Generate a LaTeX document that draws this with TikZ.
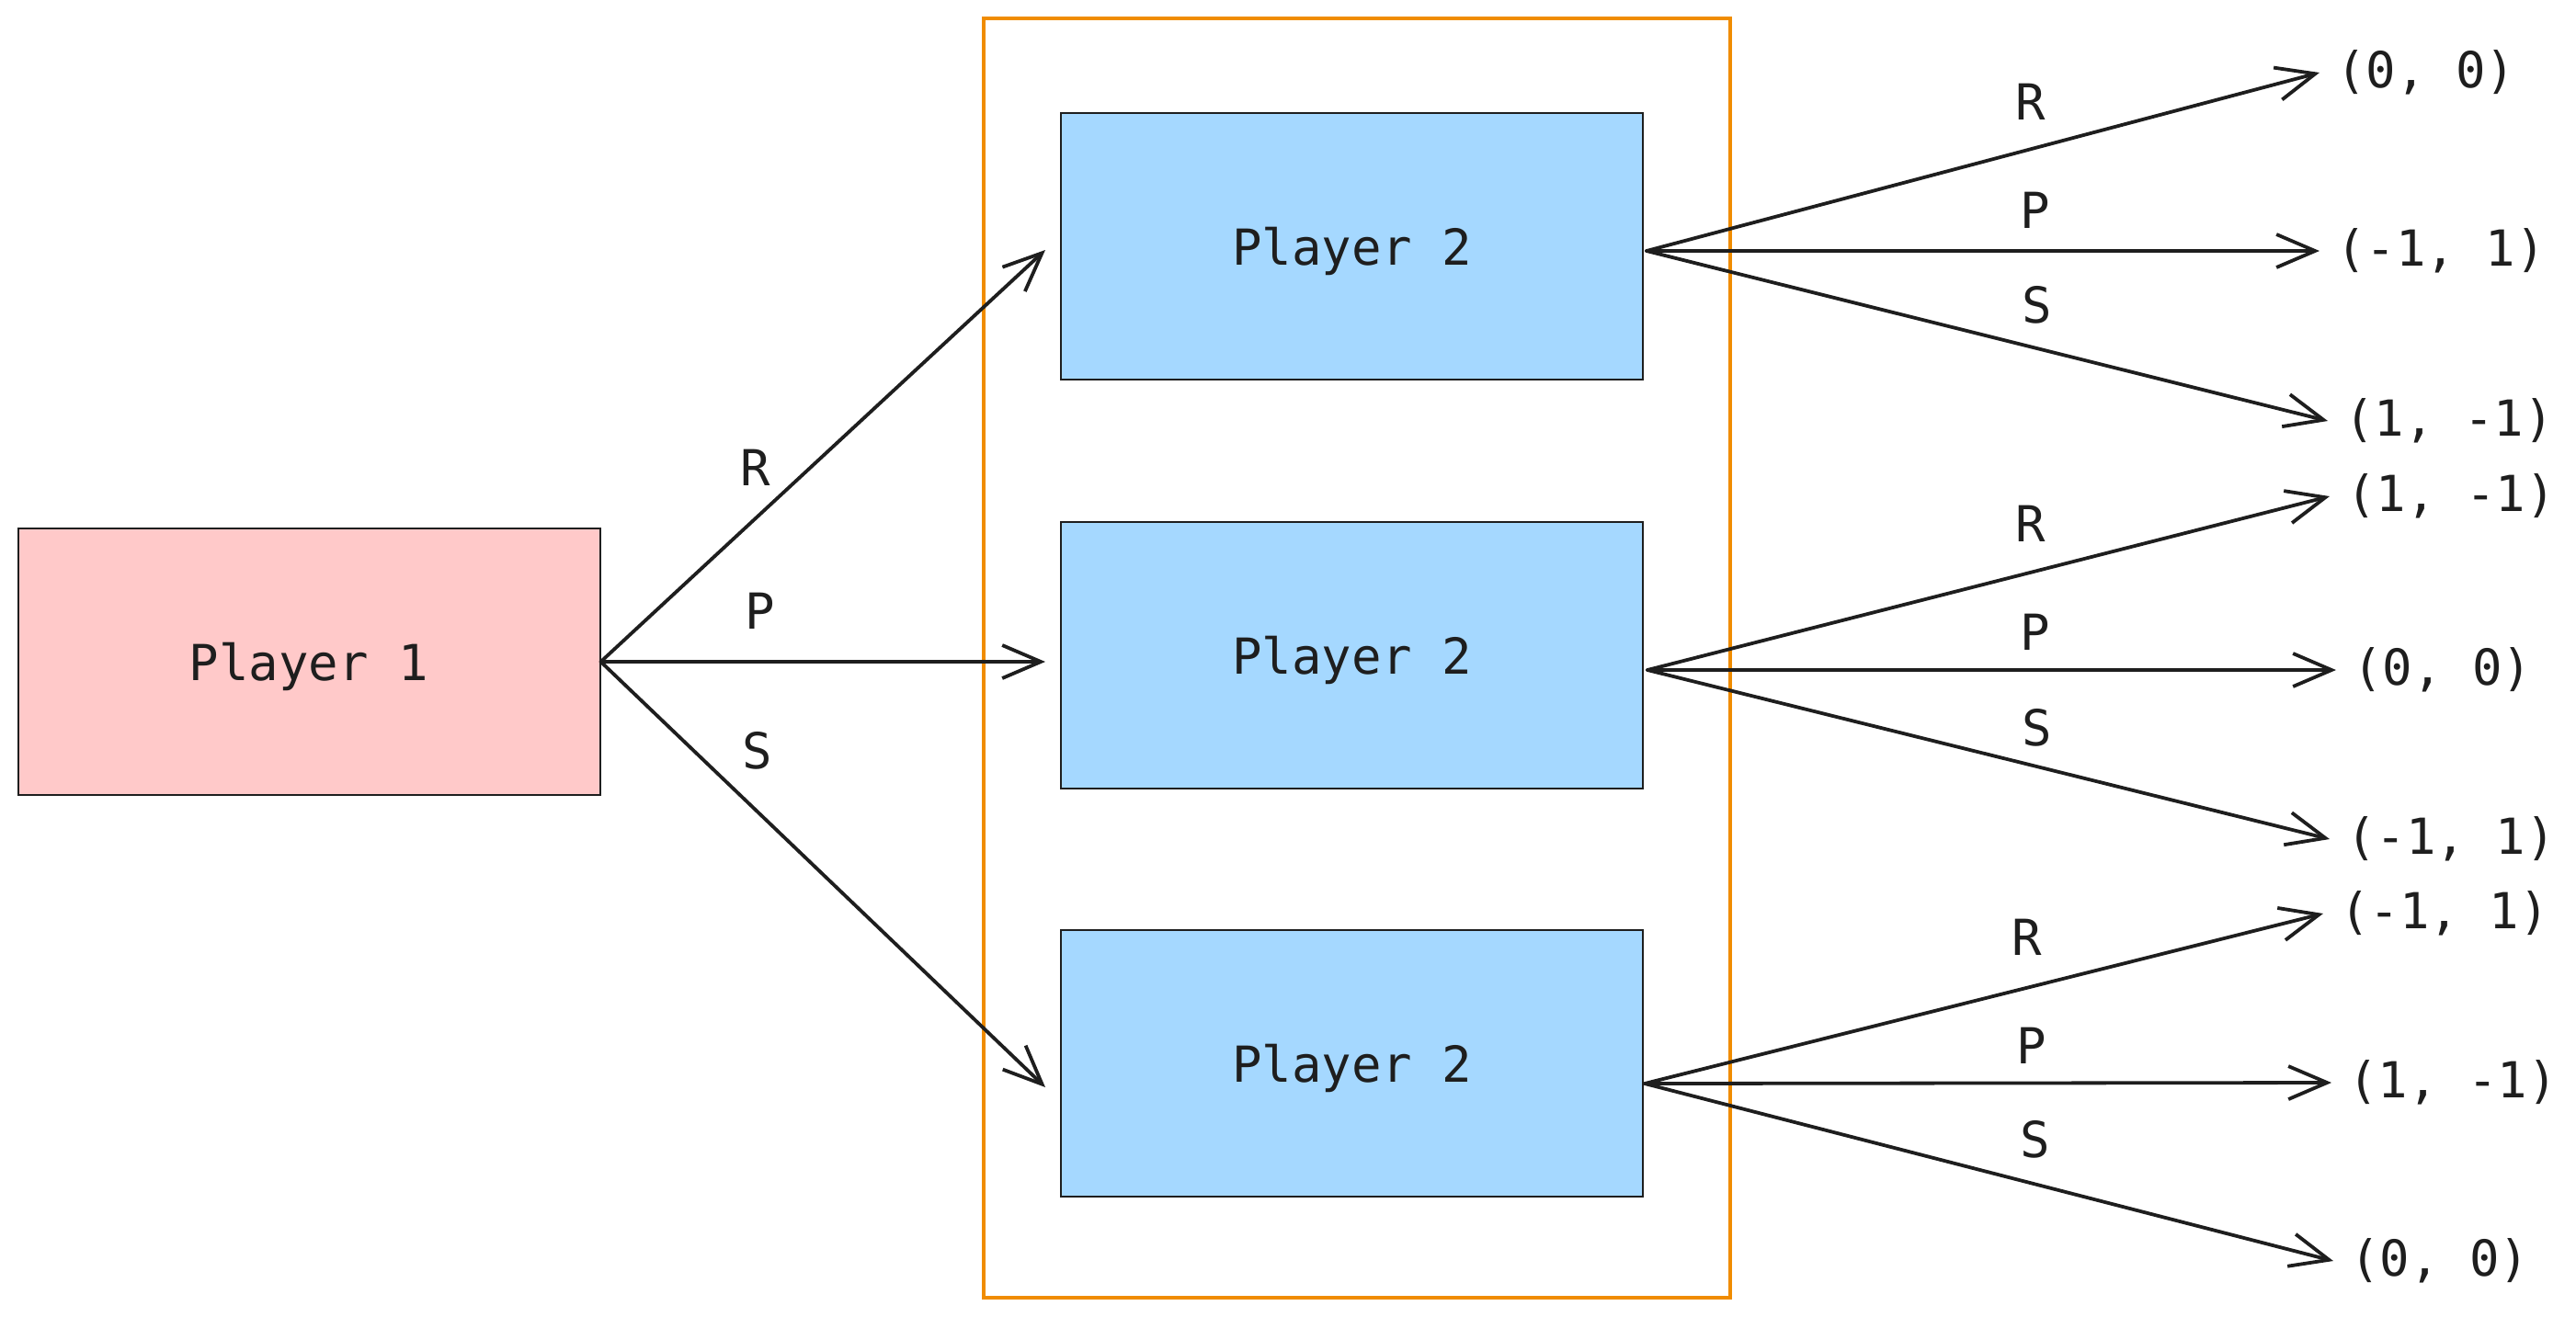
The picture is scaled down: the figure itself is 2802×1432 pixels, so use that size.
\documentclass[tikz,border=0pt]{standalone}
\usepackage{fontspec}
\newfontfamily\diagmono{DejaVu Sans Mono}
\usetikzlibrary{arrows.meta}
\definecolor{inkc}{HTML}{1E1E1E}
\definecolor{pinkc}{HTML}{FFC9C9}
\definecolor{bluec}{HTML}{A5D8FF}
\definecolor{orangec}{HTML}{F08C00}
\begin{document}
\begin{tikzpicture}[x=0.5pt,y=-0.5pt,
  txt/.style={font=\diagmono\fontsize{27}{32}\selectfont, text=inkc},
  pbox/.style={draw=inkc, line width=1pt, minimum width=316.5pt, minimum height=145pt, inner sep=0pt, txt, text depth=-2pt},
  arr/.style={draw=inkc, line width=1.9pt, -{Straight Barb[length=21pt,width=18pt,line width=1.9pt]}, line cap=round},
  res/.style={txt, anchor=west, inner sep=9pt},
  lab/.style={txt, inner sep=0pt}]
\useasboundingbox (0,0) rectangle (2802,1432);
% group frame
\node[draw=orangec, line width=2pt, minimum width=406pt, minimum height=696pt, inner sep=0pt] (grp) at (1476,716) {};
% player boxes
\node[pbox, fill=pinkc] (p1) at (336,720) {Player 1};
\node[pbox, fill=bluec] (b1) at (1470.5,268) {Player 2};
\node[pbox, fill=bluec] (b2) at (1470.5,713) {Player 2};
\node[pbox, fill=bluec] (b3) at (1470.5,1157) {Player 2};
% tips near player 2 boxes
\coordinate (t1) at (1137,272);
\coordinate (t2) at (1137,720);
\coordinate (t3) at (1137,1183);
\draw[arr] (p1.east) -- (t1);
\draw[arr] (p1.east) -- (t2);
\draw[arr] (p1.east) -- (t3);
\node[lab] (l1) at (822,509) {R};
\node[lab] (l2) at (827,665) {P};
\node[lab] (l3) at (824,817) {S};
% start points on player 2 boxes
\coordinate (s1) at (1791,273);
\coordinate (s2) at (1792,729);
\coordinate (s3) at (1789,1179);
% results
\node[res] (r11) at (2523,79) {(0, 0)};
\node[res] (r12) at (2523,273) {(-1, 1)};
\node[res] (r13) at (2532,458) {(1, -1)};
\node[res] (r21) at (2534,540) {(1, -1)};
\node[res] (r22) at (2541,729) {(0, 0)};
\node[res] (r23) at (2534,913) {(-1, 1)};
\node[res] (r31) at (2527,994) {(-1, 1)};
\node[res] (r32) at (2536,1178) {(1, -1)};
\node[res] (r33) at (2538,1372) {(0, 0)};
\foreach \i in {1,2,3}{
  \draw[arr] (s1) -- (r1\i.west);
  \draw[arr] (s2) -- (r2\i.west);
  \draw[arr] (s3) -- (r3\i.west);
}
% branch labels
\node[lab] at (2209,111) {R};
\node[lab] at (2214,229) {P};
\node[lab] at (2216,332) {S};
\node[lab] at (2209,570) {R};
\node[lab] at (2214,688) {P};
\node[lab] at (2216,792) {S};
\node[lab] at (2205,1020) {R};
\node[lab] at (2210,1138) {P};
\node[lab] at (2214,1240) {S};
\end{tikzpicture}
\end{document}
